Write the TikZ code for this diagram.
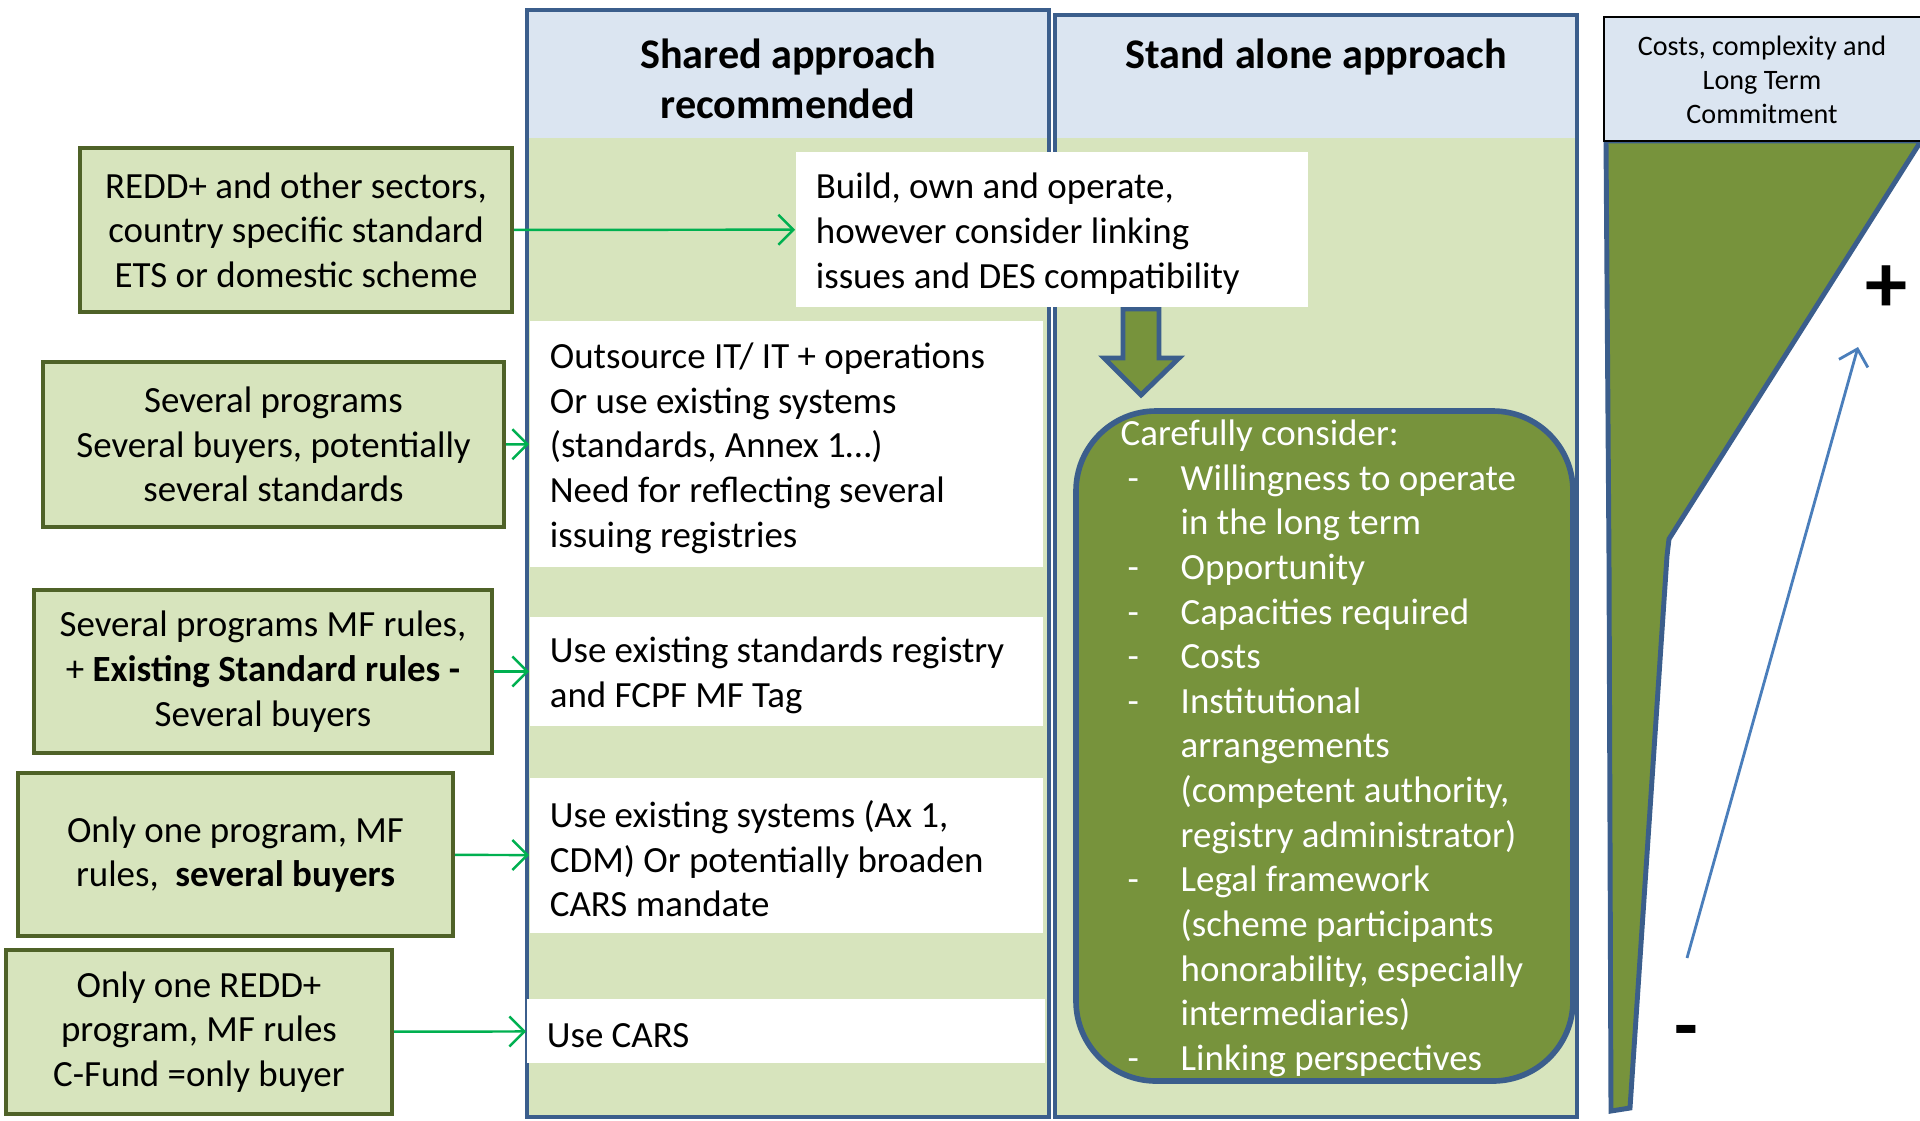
\documentclass[tikz,border=0pt]{standalone}
\usepackage{fontspec}
\setmainfont{Carlito}
\usepackage{xcolor}
\usetikzlibrary{arrows.meta}
\definecolor{palegreen}{HTML}{D7E4BD}
\definecolor{darkolive}{HTML}{4F6228}
\definecolor{paleblue}{HTML}{DBE5F1}
\definecolor{frameblue}{HTML}{3B5E8C}
\definecolor{olive}{HTML}{77933C}
\definecolor{arrowgreen}{HTML}{00B050}
\definecolor{arrowblue}{HTML}{4A7EBB}
\newcommand{\bodyfont}{\fontsize{10.5}{12.7}\selectfont}
\newcommand{\itm}{\hspace*{0.07cm}\makebox[0.53cm][l]{-}}
\newcommand{\cnt}{\hspace*{0.6cm}}
\newcommand{\tp}{\rule{0pt}{9.6pt}}

\begin{document}
\begin{tikzpicture}[x=0.01cm,y=-0.01cm]
\tikzset{
  cond/.style={draw=darkolive, line width=1.2pt, fill=palegreen, align=center, font=\bodyfont, inner sep=0pt},
  optbox/.style={fill=white, text width=#1, align=flush left, font=\bodyfont, inner xsep=0.2cm, inner ysep=0pt},
  grnarrow/.style={arrowgreen, line width=0.7pt, -{Straight Barb[length=1.5mm,width=3mm]}},
  colhead/.style={font=\fontsize{12}{14.2}\selectfont\bfseries, align=center},
}
\useasboundingbox (0,0) rectangle (1920,1120);
% the two approach columns
\foreach \l/\r/\t in {527/1049/10, 1055/1577/15} {
  \fill[palegreen] (\l,\t) rectangle (\r,1117);
  \fill[paleblue] (\l,\t) rectangle (\r,138);
  \draw[frameblue, line width=1.1pt] (\l,\t) rectangle (\r,1117);
}
\node[colhead] (hdshared) at (788,79) {Shared approach\\recommended};
\node[colhead] (hdalone) at (1316,57) {Stand alone approach};
% cost funnel
\fill[olive, draw=frameblue, line width=1.4pt] (1606,141) -- (1921,141) -- (1669,539) -- (1667,556)
  -- (1630,1108) -- (1611,1111) -- (1609,560) -- cycle;
\draw[black, thin, fill=paleblue] (1604,17) rectangle (1922,141);
\node[align=center, font=\fontsize{8}{9.65}\selectfont] (hdcost) at (1762,80) {Costs, complexity and\\Long Term\\Commitment};
\coordinate (lo) at (1687,958);
\coordinate (hi) at (1858,347);
\draw[arrowblue, line width=0.8pt, -{Straight Barb[length=1.5mm,width=3mm]}] (lo) -- (hi);
\node[font=\fontsize{24}{24}\selectfont\bfseries] (plus) at (1887,289) {+};
\node[font=\fontsize{22}{22}\selectfont\bfseries] (minus) at (1686,1038) {-};
% stand alone: block arrow and list
\fill[olive, draw=frameblue, line width=1.4pt] (1123,309) -- (1159,309) -- (1159,358) -- (1179,358)
  -- (1141,395) -- (1104,358) -- (1123,358) -- cycle;
\draw[frameblue, line width=1.6pt, fill=olive, rounded corners=0.8cm] (1076,411) rectangle (1573,1081);
\node[anchor=north west, align=left, text=white, font=\bodyfont, inner sep=0pt] (consider) at (1120,419) {Carefully consider:\\
\itm Willingness to operate\\
\cnt in the long term\\
\itm Opportunity\\
\itm Capacities required\\
\itm Costs\\
\itm Institutional\\
\cnt arrangements\\
\cnt (competent authority,\\
\cnt registry administrator)\\
\itm Legal framework\\
\cnt (scheme participants\\
\cnt honorability, especially\\
\cnt intermediaries)\\
\itm Linking perspectives};
% options
\node[optbox=4.72cm, minimum height=1.55cm] (build) at (1052,229.5) {\tp Build, own and operate,\\however consider linking\\issues and DES compatibility};
\node[optbox=4.73cm, minimum height=2.46cm] (outsrc) at (786.5,444) {\tp Outsource IT/ IT + operations\\Or use existing systems\\(standards, Annex 1\dots)\\Need for reflecting several\\issuing registries};
\node[optbox=4.73cm, minimum height=1.09cm] (stdreg) at (786.5,671.5) {\tp Use existing standards registry\\and FCPF MF Tag};
\node[optbox=4.73cm, minimum height=1.55cm] (exsys) at (786.5,855.5) {\tp Use existing systems (Ax 1,\\CDM) Or potentially broaden\\CARS mandate};
\node[optbox=4.78cm, minimum height=0.64cm] (cars) at (786,1031) {\tp Use CARS};
% conditions
\node[cond, minimum width=4.32cm, minimum height=1.64cm] (cond1) at (296,230) {REDD+ and other sectors,\\country specific standard\\ETS or domestic scheme};
\node[cond, minimum width=4.61cm, minimum height=1.65cm] (cond2) at (273.5,444.5) {Several programs\\Several buyers, potentially\\several standards};
\node[cond, minimum width=4.58cm, minimum height=1.63cm] (cond3) at (263,671.5) {Several programs MF rules,\\+ \textbf{Existing Standard rules -}\\Several buyers};
\node[cond, minimum width=4.35cm, minimum height=1.63cm] (cond4) at (235.5,854.5) {Only one program, MF\\rules,\ \ \textbf{several buyers}};
\node[cond, minimum width=3.86cm, minimum height=1.64cm] (cond5) at (199,1032) {Only one REDD+\\program, MF rules\\C-Fund =only buyer};
\foreach \a/\b in {cond1/build, cond2/outsrc, cond3/stdreg, cond4/exsys, cond5/cars} {
  \draw[grnarrow] (\a) -- (\b);
}
\end{tikzpicture}
\end{document}
